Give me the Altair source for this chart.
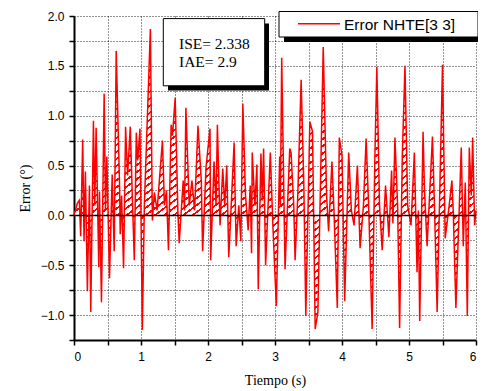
import altair as alt
import pandas as pd

# ---- data ----
t = [0.00, 0.05, 0.08, 0.10, 0.13, 0.15, 0.17, 0.20, 0.23, 0.25,
     0.29, 0.31, 0.33, 0.37, 0.38, 0.41, 0.45, 0.47, 0.49, 0.53,
     0.57, 0.60, 0.63, 0.68, 0.69, 0.71, 0.74, 0.77, 0.80, 0.84,
     0.87, 0.90, 0.93, 0.95, 0.985, 1.02, 1.05, 1.14, 1.17, 1.20,
     1.24, 1.32, 1.35, 1.38, 1.41, 1.45, 1.47, 1.51, 1.55, 1.57,
     1.63, 1.65, 1.67, 1.72, 1.76, 1.80, 1.85, 1.90, 1.92, 1.97,
     2.03, 2.04, 2.09, 2.12, 2.14, 2.18, 2.22, 2.25, 2.28, 2.31,
     2.39, 2.42, 2.46, 2.49, 2.52, 2.56, 2.60, 2.63, 2.65, 2.66,
     2.70, 2.73, 2.75, 2.79, 2.81, 2.83, 2.86, 2.93, 2.97, 3.02,
     3.07, 3.08, 3.10, 3.15, 3.22, 3.24, 3.28, 3.30, 3.34, 3.39,
     3.43, 3.46, 3.52, 3.56, 3.60, 3.64, 3.72, 3.77, 3.80, 3.85,
     3.88, 3.93, 3.96, 4.00, 4.04, 4.10, 4.14, 4.18, 4.23, 4.27,
     4.32, 4.36, 4.40, 4.45, 4.49, 4.52, 4.56, 4.60, 4.65, 4.70,
     4.74, 4.76, 4.79, 4.83, 4.86, 4.90, 4.94, 4.98, 5.03, 5.08,
     5.12, 5.14, 5.16, 5.21, 5.23, 5.27, 5.35, 5.38, 5.42, 5.47,
     5.50, 5.54, 5.60, 5.64, 5.66, 5.70, 5.78, 5.81, 5.84, 5.87,
     5.90, 5.93, 5.95, 5.98, 6.00]

err = [0.00, 0.12, 0.15, -0.21, 0.76, -0.26, 0.44, -0.76, 0.30, -0.97,
       0.95, 0.10, 0.88, -0.52, 0.24, -0.87, 1.22, 0.05, 0.59, -0.63,
       0.41, -0.36, 1.65, 0.30, -0.19, 0.20, -0.53, 0.89, 0.40, 0.89,
       0.20, -0.45, 0.83, 0.55, 0.87, -1.15, 0.10, 1.87, -0.05, 0.23,
       0.05, 0.75, 0.10, 0.25, -0.35, 0.91, 0.80, 1.18, 0.05, -0.28,
       0.35, 0.05, 1.08, 0.10, 0.35, 0.05, 0.90, 0.35, -0.36, 0.48,
       0.87, -0.45, 0.54, 0.10, 0.91, -0.10, 0.47, 0.10, 0.50, -0.42,
       0.73, -0.31, 0.10, -0.26, 1.12, 0.20, -0.15, 0.30, -0.38, 0.63,
       0.10, 0.51, -0.74, 0.62, 0.15, 0.67, -0.50, 0.63, -0.13, -0.91,
       0.59, 0.10, 1.58, -0.54, 0.67, 0.63, 0.10, -0.45, 0.20, 1.36,
       0.32, -1.01, 0.94, 0.84, -1.14, -0.97, 1.69, 0.20, -0.16, 0.54,
       0.05, -0.93, 0.78, 0.60, -0.86, 0.63, 0.05, -0.10, 0.50, -0.33,
       0.10, 0.77, 0.05, -1.14, 0.56, 1.49, 0.10, -0.35, 0.30, -0.22,
       0.45, -0.08, 0.78, 0.10, -1.13, 0.59, 1.50, 0.10, -0.10, 0.63,
       -0.57, 0.05, -1.06, 0.84, 0.28, -0.31, 0.79, 0.10, -0.97, 0.57,
       1.51, -0.23, 0.10, 0.35, 0.05, -0.93, 0.68, -0.31, 0.33, -1.01,
       0.68, 0.20, 0.78, -0.10, 0.05]

x_ticks = [0, 0.5, 1, 1.5, 2, 2.5, 3, 3.5, 4, 4.5, 5, 5.5, 6]
y_ticks = [-1.25, -1.0, -0.75, -0.5, -0.25, 0.0, 0.25, 0.5, 0.75,
           1.0, 1.25, 1.5, 1.75, 2.0]
series_label = "Error NHTE[3 3]"
ise_text = "ISE= 2.338"
iae_text = "IAE= 2.9"
x_title = "Tiempo (s)"
y_title = "Error (°)"

df = pd.DataFrame({"t": t, "e": err})
one = pd.DataFrame({"a": [0]})

RED = "#ff0000"
SANS = "Liberation Sans"
SERIF = "Liberation Serif"

# hatch-like diagonal stripes via a gradient with hard stops
N = 85
stops = []
for i in range(N):
    p0 = i / N
    p1 = (i + 0.68) / N
    p2 = (i + 1) / N
    stops += [
        alt.GradientStop(color="white", offset=p0),
        alt.GradientStop(color="white", offset=p1),
        alt.GradientStop(color=RED, offset=p1),
        alt.GradientStop(color=RED, offset=min(p2, 1.0)),
    ]
hatch = alt.Gradient(gradient="linear", stops=stops, x1=0, y1=0, x2=1, y2=1)

xs = alt.Scale(domain=[0, 6], nice=False, zero=False)
ys = alt.Scale(domain=[-1.25, 2.0], nice=False, zero=False)

x_axis = alt.Axis(values=x_ticks, grid=True, gridDash=[1, 2], gridColor="#000",
                  gridOpacity=0.85, domainColor="#000", domainWidth=2,
                  tickColor="#000", tickSize=5, tickWidth=1.5,
                  labelOverlap=False,
                  labelExpr="abs(datum.value - round(datum.value)) < 0.001 ? format(datum.value, 'd') : ''",
                  labelFont=SANS, labelFontSize=12, labelColor="#000", labelPadding=6,
                  title=x_title, titleFont=SERIF, titleFontSize=14,
                  titleFontWeight="normal", titleColor="#000", titlePadding=11)
y_axis = alt.Axis(values=y_ticks, grid=True, gridDash=[1, 2], gridColor="#000",
                  gridOpacity=0.85, domainColor="#000", domainWidth=2,
                  tickColor="#000", tickSize=5, tickWidth=1.5,
                  labelOverlap=False,
                  labelExpr="abs(datum.value * 2 - round(datum.value * 2)) < 0.001 ? format(datum.value, '.1f') : ''",
                  labelFont=SANS, labelFontSize=12, labelColor="#000", labelPadding=5,
                  title=y_title, titleFont=SERIF, titleFontSize=14,
                  titleFontWeight="normal", titleColor="#000", titlePadding=8,
                  titleY=172)

X = alt.X("t:Q", scale=xs, axis=x_axis)
Y = alt.Y("e:Q", scale=ys, axis=y_axis)

base = alt.Chart(df)
area = base.mark_area(color=hatch, interpolate="linear").encode(x=X, y=Y)
line = base.mark_line(color=RED, strokeWidth=1.5).encode(x=X, y=Y)
zero = alt.Chart(pd.DataFrame({"e": [0.0]})).mark_rule(color="#000", strokeWidth=1.5).encode(y=Y)

# legend box (pixel positions relative to plot area)
leg_shadow = alt.Chart(one).mark_rect(color="#000").encode(
    x=alt.value(210), x2=alt.value(410), y=alt.value(0), y2=alt.value(26))
leg_box = alt.Chart(one).mark_rect(fill="white", stroke="#000", strokeWidth=1).encode(
    x=alt.value(205), x2=alt.value(404), y=alt.value(-4.5), y2=alt.value(21))
leg_line = alt.Chart(one).mark_rule(color=RED, strokeWidth=1.5).encode(
    x=alt.value(224), x2=alt.value(266), y=alt.value(7.8))
leg_text = alt.Chart(one).mark_text(align="left", baseline="middle", font=SANS,
                                    fontSize=15.5, color="#000").encode(
    x=alt.value(270), y=alt.value(8.5), text=alt.value(series_label))

# ISE / IAE box
st_shadow = alt.Chart(one).mark_rect(color="#000").encode(
    x=alt.value(94), x2=alt.value(195), y=alt.value(7.5), y2=alt.value(74.5))
st_box = alt.Chart(one).mark_rect(fill="white", stroke="#000", strokeWidth=1).encode(
    x=alt.value(89.3), x2=alt.value(190.7), y=alt.value(2.6), y2=alt.value(69.8))
st_text1 = alt.Chart(one).mark_text(align="left", baseline="alphabetic", font=SERIF,
                                    fontSize=15.5, color="#000").encode(
    x=alt.value(105), y=alt.value(32.6), text=alt.value(ise_text))
st_text2 = alt.Chart(one).mark_text(align="left", baseline="alphabetic", font=SERIF,
                                    fontSize=15.5, color="#000").encode(
    x=alt.value(105), y=alt.value(51), text=alt.value(iae_text))

chart = alt.layer(
    area, line, zero,
    st_shadow, st_box, st_text1, st_text2,
    leg_shadow, leg_box, leg_line, leg_text,
).properties(
    width=402, height=324,
    autosize=alt.AutoSizeParams(type="none"),
    padding={"left": 66, "top": 8, "right": 2, "bottom": 50},
    background="white",
).configure_view(stroke=None)

chart.save("out.html", embed_options={"renderer": "svg", "actions": False})
